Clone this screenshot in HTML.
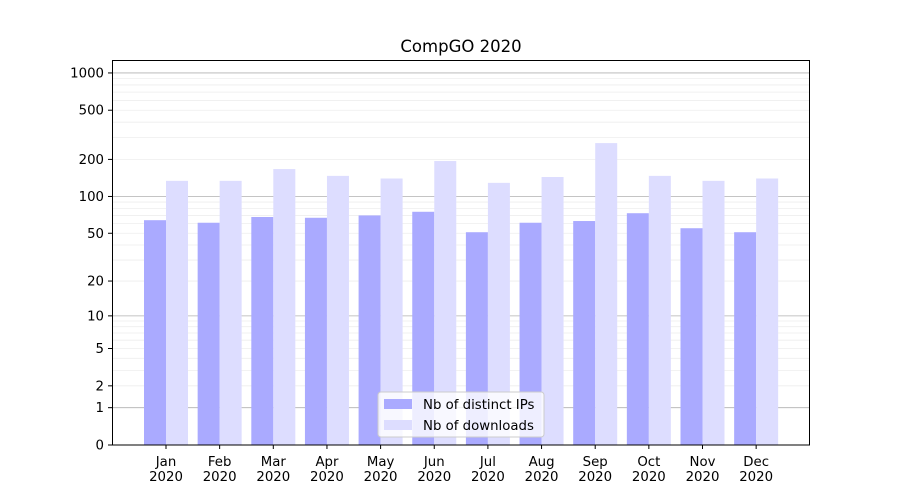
<!DOCTYPE html>
<html><head><meta charset="utf-8"><style>body{margin:0;background:#fff}svg{display:block}text{font-family:"DejaVu Sans","Liberation Sans",sans-serif;fill:#000}</style></head><body>
<svg width="900" height="500" viewBox="0 0 900 500" xmlns="http://www.w3.org/2000/svg">
<g id="grid"></g>
<g id="bars"></g>
<rect x="112.5" y="60.5" width="697" height="384.5" fill="none" stroke="#000" stroke-width="1"/>
<g id="ticks" font-size="13.3"></g>
<text x="461" y="52" font-size="16.5" text-anchor="middle">CompGO 2020</text>
<g>
<rect x="378" y="392" width="166" height="45" rx="3" fill="#fff" fill-opacity="0.8" stroke="#ccc"/>
<rect x="384" y="399" width="28" height="10" fill="#aaaaff"/>
<text x="423" y="409" font-size="13.3">Nb of distinct IPs</text>
<rect x="384" y="420" width="28" height="10" fill="#ddddff"/>
<text x="423" y="430" font-size="13.3">Nb of downloads</text>
</g>
<script>
var ns="http://www.w3.org/2000/svg";
function Y(v){return 445-124*Math.log10(v+1);}
function el(p,t,a,txt){var e=document.createElementNS(ns,t);for(var k in a)e.setAttribute(k,a[k]);if(txt!==undefined)e.textContent=txt;document.getElementById(p).appendChild(e);return e;}
[2,3,4,5,6,7,8,9,20,30,40,50,60,70,80,90,200,300,400,500,600,700,800,900].forEach(function(v){var y=Y(v);el("grid","line",{x1:112,x2:810,y1:y,y2:y,stroke:"#eeeeee","stroke-width":0.8});});
[1,10,100,1000].forEach(function(v){var y=Y(v);el("grid","line",{x1:112,x2:810,y1:y,y2:y,stroke:"#b0b0b0","stroke-width":0.8});});
var ip=[64,61,68,67,70,75,51,61,63,73,55,51];
var dl=[134,134,167,147,140,194,129,144,271,147,134,140];
var m=["Jan","Feb","Mar","Apr","May","Jun","Jul","Aug","Sep","Oct","Nov","Dec"];
for(var i=0;i<12;i++){var c=166+i*53.65;
el("bars","rect",{x:c-22,y:Y(ip[i]),width:22,height:445-Y(ip[i]),fill:"#aaaaff"});
el("bars","rect",{x:c,y:Y(dl[i]),width:22,height:445-Y(dl[i]),fill:"#ddddff"});
el("ticks","line",{x1:c,x2:c,y1:445,y2:449,stroke:"#000"});
el("ticks","text",{x:c,y:466,"text-anchor":"middle"},m[i]);
el("ticks","text",{x:c,y:481,"text-anchor":"middle"},"2020");}
[0,1,2,5,10,20,50,100,200,500,1000].forEach(function(v){var y=Y(v);
el("ticks","line",{x1:108,x2:112,y1:y,y2:y,stroke:"#000"});
el("ticks","text",{x:104,y:y+4.5,"text-anchor":"end"},String(v));});
</script>
</svg>
</body></html>
